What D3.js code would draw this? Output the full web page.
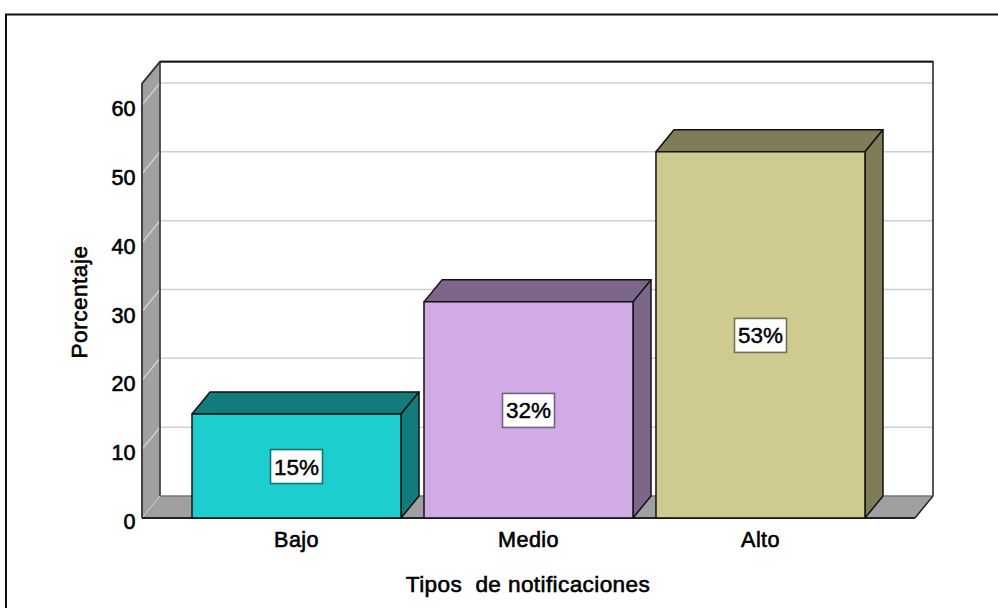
<!DOCTYPE html>
<html><head><meta charset="utf-8">
<script src="https://cdn.jsdelivr.net/npm/d3@7"></script>
<style>html,body{margin:0;padding:0;background:#fff}svg{display:block}text{font-family:"Liberation Sans",Arial,sans-serif;fill:#000;font-weight:bold}</style>
</head><body><div id="c"></div>
<script>
const categories = ["Bajo","Medio","Alto"];
const values = [15.1,31.4,53.2];
const valueLabels = ["15%","32%","53%"];
const fronts = ["#1ccfce","#d1abe5","#cfca8f"];
const sides = ["#137c7b","#7d6789","#7f7c57"];
const yTicks = [0,10,20,30,40,50,60];
const yTitle = "Porcentaje";
const xTitle = "Tipos  de notificaciones";
const W=998,H=608, dx=18, dy=-22;
const svg=d3.select("#c").append("svg").attr("width",W).attr("height",H);
svg.append("path").attr("d",`M6,${H+5}V14.5H${W+5}`).attr("fill","none").attr("stroke","#111").attr("stroke-width",2);
const y=d3.scaleLinear().domain([0,60]).range([518,105]);
const x=d3.scaleBand().domain(categories).range([180.5,876.5]).paddingInner(0.099).paddingOuter(0.0496);
const left=142,right=915,topV=63.1;
const poly=(pts)=>pts.map(p=>p.join(",")).join(" ");
svg.append("rect").attr("x",left+dx).attr("y",y(topV)+dy).attr("width",right-left).attr("height",y(0)-y(topV)).attr("fill","#fff");
svg.append("polygon").attr("points",poly([[left,y(0)],[left,y(topV)],[left+dx,y(topV)+dy],[left+dx,y(0)+dy]])).attr("fill","#a0a0a0");
svg.append("polygon").attr("points",poly([[left,y(0)],[left+dx,y(0)+dy],[right+dx,y(0)+dy],[right,y(0)]])).attr("fill","#a0a0a0");
yTicks.slice(1).forEach(t=>{
  svg.append("path").attr("d",`M${left},${y(t)}L${left+dx},${y(t)+dy}H${right+dx}`).attr("fill","none").attr("stroke","#cfcfcf").attr("stroke-width",1.5);
});
svg.append("path").attr("d",`M${left},${y(0)}L${left+dx},${y(0)+dy}`).attr("stroke","#cfcfcf").attr("stroke-width",1);
const ol=svg.append("g").attr("fill","none").attr("stroke-linejoin","miter");
ol.append("path").attr("d",`M${left+dx},${y(0)+dy}V${y(topV)+dy}H${right+dx}V${y(0)+dy}`).attr("stroke","#444").attr("stroke-width",1.8);
ol.append("path").attr("d",`M${left+dx},${y(topV)+dy}H${right+dx}`).attr("stroke","#111").attr("stroke-width",1.6);
ol.append("path").attr("d",`M${left+dx},${y(0)+dy}H${right+dx}`).attr("stroke","#777").attr("stroke-width",1.5);
ol.append("path").attr("d",`M${left},${y(0)}V${y(topV)}L${left+dx},${y(topV)+dy}`).attr("stroke","#333").attr("stroke-width",1.8);
ol.append("path").attr("d",`M${right},${y(0)}L${right+dx},${y(0)+dy}`).attr("stroke","#222").attr("stroke-width",1.5);
ol.append("path").attr("d",`M${left},${y(0)}H${right}`).attr("stroke","#222").attr("stroke-width",1.8);
const st=g=>g.attr("stroke","#111").attr("stroke-width",1.5).attr("stroke-linejoin","round");
const heavy=s=>s.style("font-weight","normal").style("stroke","#000").style("stroke-width",0.6);
categories.forEach((c,i)=>{
  const g=svg.append("g"), x0=x(c), x1=x0+x.bandwidth(), yt=y(values[i]), yb=y(0);
  g.append("polygon").attr("points",poly([[x0,yt],[x0+dx,yt+dy],[x1+dx,yt+dy],[x1,yt]])).attr("fill",sides[i]).call(st);
  g.append("polygon").attr("points",poly([[x1,yt],[x1+dx,yt+dy],[x1+dx,yb+dy],[x1,yb]])).attr("fill",sides[i]).call(st);
  g.append("rect").attr("x",x0).attr("y",yt).attr("width",x.bandwidth()).attr("height",yb-yt).attr("fill",fronts[i]).call(st);
  const cx=(x0+x1)/2, cy=(yt+yb)/2+0.5;
  g.append("rect").attr("x",cx-26).attr("y",cy-17).attr("width",52).attr("height",34).attr("fill","#fff").attr("stroke",d3.color(fronts[i]).darker(1.6)).attr("stroke-width",1.6);
  g.append("text").attr("x",cx).attr("y",cy+8).attr("text-anchor","middle").attr("font-size",22.5).style("font-weight","normal").style("stroke","#000").style("stroke-width",0.45).text(valueLabels[i]);
  svg.append("text").attr("x",cx).attr("y",547).attr("text-anchor","middle").attr("font-size",21.6).call(heavy).style("letter-spacing","0.4px").text(c);
});
svg.append("g").selectAll("text").data(yTicks).join("text").attr("x",135.5).attr("y",d=>y(d)+11).attr("text-anchor","end").attr("font-size",21.6).call(heavy).text(d=>d);
svg.append("text").attr("transform","translate(87,302) rotate(-90)").attr("text-anchor","middle").attr("font-size",22.6).call(heavy).style("letter-spacing","0.5px").text(yTitle);
svg.append("text").attr("x",528).attr("y",592).attr("text-anchor","middle").attr("font-size",22.6).call(heavy).style("letter-spacing","0.38px").style("white-space","pre").text(xTitle);
</script></body></html>
